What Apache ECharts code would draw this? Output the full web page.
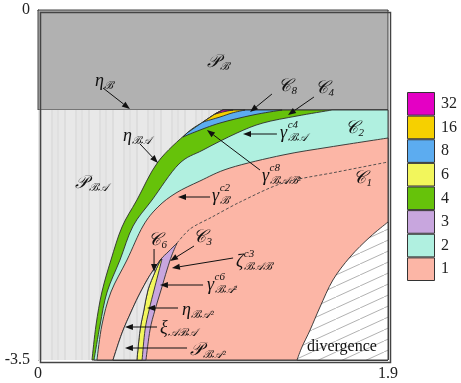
<!DOCTYPE html>
<html>
<head>
<meta charset="utf-8">
<script src="https://cdn.jsdelivr.net/npm/echarts@6/dist/echarts.min.js"></script>
<style>
  html, body { margin: 0; padding: 0; background: #fff; }
  #chart { width: 461px; height: 383px; }
</style>
</head>
<body>
<div id="chart"></div>
<script>
// boundary curves as [alpha, beta]
const etaB = -1.0
const etaBA = [[0.293,-3.5],[0.315,-3.15],[0.347,-2.82],[0.396,-2.5],[0.456,-2.17],[0.537,-1.9],[0.651,-1.52],[0.809,-1.23],[0.896,-1.12],[0.961,-1.04],[1.004,-1.0]]
const gammaBAc4 = [[0.304,-3.5],[0.337,-3.15],[0.375,-2.82],[0.445,-2.5],[0.516,-2.16],[0.619,-1.9],[0.765,-1.54],[0.896,-1.4],[1.08,-1.23],[1.221,-1.13],[1.406,-1.06],[1.596,-1.0]]
const gammaBc2 = [[0.32,-3.5],[0.347,-3.15],[0.396,-2.82],[0.483,-2.5],[0.57,-2.16],[0.651,-1.97],[0.749,-1.83],[0.879,-1.71],[1.042,-1.58],[1.33,-1.45],[1.585,-1.37],[1.9,-1.28]]
const dashed = [[0.755,-2.33],[0.825,-2.19],[0.945,-2.07],[1.097,-1.92],[1.33,-1.73],[1.623,-1.62],[1.9,-1.52]]
const xiABA = [[0.755,-2.33],[0.706,-2.42],[0.668,-2.49],[0.619,-2.62],[0.586,-2.72],[0.543,-2.87],[0.505,-3.02],[0.456,-3.23],[0.407,-3.5]]
const etaBA2 = [[0.662,-2.51],[0.635,-2.62],[0.597,-2.8],[0.575,-3.0],[0.554,-3.2],[0.537,-3.5]]
const gammaBA2c6 = [[0.673,-2.49],[0.651,-2.65],[0.63,-2.8],[0.603,-3.0],[0.581,-3.2],[0.565,-3.5]]
const zetaBABc3 = [[0.755,-2.33],[0.727,-2.45],[0.7,-2.6],[0.668,-2.8],[0.635,-3.0],[0.608,-3.2],[0.586,-3.5]]
const divergence = [[1.9,-2.12],[1.802,-2.27],[1.694,-2.47],[1.601,-2.7],[1.531,-2.97],[1.477,-3.2],[1.433,-3.37],[1.406,-3.5]]
const c8Edge = [[0.787,-1.27],[0.852,-1.22],[0.988,-1.13],[1.167,-1.05],[1.325,-1.0]]
const c16Edge = [[0.896,-1.12],[0.988,-1.07],[1.053,-1.03],[1.124,-1.0]]
const c32Edge = [[0.961,-1.04],[1.015,-1.015],[1.059,-1.0]]

// colour bar
const periods = ['1', '2', '3', '4', '6', '8', '16', '32']
const periodColors = ['#fcb6a6', '#b0f0e0', '#c8a6de', '#66c20a', '#f2f65c', '#5cacf0', '#f6d000', '#e400c4']

// annotations: label anchor [alpha, beta], arrows [from, to]
const labels = [
  { at: [0.917,-0.52], base: '𝒫', sub: 'ℬ' },
  { at: [0.309,-0.71], base: 'η', sub: 'ℬ' },
  { at: [0.461,-1.26], base: 'η', sub: 'ℬ𝒜' },
  { at: [0.201,-1.73], base: '𝒫', sub: 'ℬ𝒜' },
  { at: [1.303,-0.76], base: '𝒞', sub: '8' },
  { at: [1.504,-0.78], base: '𝒞', sub: '4' },
  { at: [1.314,-1.23], base: 'γ', sub: 'ℬ𝒜', sup: 'c4' },
  { at: [1.667,-1.18], base: '𝒞', sub: '2' },
  { at: [1.216,-1.66], base: 'γ', sub: 'ℬ𝒜ℬ²', sup: 'c8' },
  { at: [1.71,-1.68], base: '𝒞', sub: '1' },
  { at: [0.945,-1.86], base: 'γ', sub: 'ℬ', sup: 'c2' },
  { at: [0.597,-2.3], base: '𝒞', sub: '6' },
  { at: [0.841,-2.27], base: '𝒞', sub: '3' },
  { at: [1.075,-2.52], base: 'ζ', sub: 'ℬ𝒜ℬ', sup: 'c3' },
  { at: [0.917,-2.75], base: 'γ', sub: 'ℬ𝒜²', sup: 'c6' },
  { at: [0.782,-3.0], base: 'η', sub: 'ℬ𝒜²' },
  { at: [0.662,-3.18], base: 'ξ', sub: '𝒜ℬ𝒜' },
  { at: [0.825,-3.4], base: '𝒫', sub: 'ℬ𝒜²' },
  { at: [1.46,-3.37], base: 'divergence', plain: true }
]
const arrows = [
  [[0.353,-0.78],[0.499,-0.99]],
  [[0.554,-1.34],[0.651,-1.53]],
  [[1.27,-0.84],[1.151,-1.02]],
  [[1.498,-0.87],[1.357,-1.05]],
  [[1.297,-1.24],[1.113,-1.24]],
  [[1.205,-1.6],[0.917,-1.2]],
  [[0.934,-1.87],[0.76,-1.87]],
  [[0.63,-2.39],[0.63,-2.62]],
  [[0.847,-2.36],[0.717,-2.51]],
  [[1.059,-2.48],[0.727,-2.58]],
  [[0.896,-2.75],[0.662,-2.75]],
  [[0.76,-2.98],[0.592,-2.98]],
  [[0.646,-3.17],[0.472,-3.17]],
  [[0.809,-3.38],[0.472,-3.38]]
]

const SERIF = '"Liberation Serif", "DejaVu Serif", serif'

function hatchPattern() {
  const c = document.createElement('canvas')
  c.width = 24; c.height = 11
  const g = c.getContext('2d')
  g.fillStyle = '#fff'
  g.fillRect(0, 0, 24, 11)
  g.strokeStyle = '#a8a8a8'
  g.lineWidth = 0.9
  g.beginPath()
  g.moveTo(-1, 11.46); g.lineTo(25, -0.46)
  g.stroke()
  return c
}
function stripePattern() {
  const c = document.createElement('canvas')
  c.width = 24; c.height = 4
  const g = c.getContext('2d')
  const stripes = [[0,3,'#e8e8e8'],[3,2,'#dedede'],[5,4,'#e6e6e6'],[9,2,'#e0e0e0'],[11,5,'#e7e7e7'],[16,2,'#dddddd'],[18,6,'#e8e8e8']]
  stripes.forEach(s => { g.fillStyle = s[2]; g.fillRect(s[0], 0, s[1], 4) })
  return c
}

const colorOf = p => periodColors[periods.indexOf(p)]
const corners = [[1.9, etaB], [1.9, -3.5]]
const bottomRight = [[1.9, -3.5]]
// part of eta_BA above a given beta, walked from the top down
const etaBAabove = b => etaBA.filter(p => p[1] > b + 0.005).reverse()

// each region: list of [points, smooth] parts walked in order
const regions = [
  { parts: [[[[0, 0], [1.9, 0], [1.9, etaB], [0, etaB]], false]], fill: '#b1b1b1' },
  { parts: [[[[0, etaB], [1.9, etaB], [1.9, -3.5], [0, -3.5]], false]], fill: { image: stripePattern(), repeat: 'repeat' }, noStroke: true },
  { parts: [[etaBA, true], [corners, false]], fill: colorOf('4') },
  { parts: [[gammaBAc4, true], [corners, false]], fill: colorOf('2') },
  { parts: [[gammaBc2, true], [bottomRight, false]], fill: colorOf('1') },
  { parts: [[zetaBABc3, true], [xiABA.slice().reverse(), true]], fill: colorOf('3') },
  { parts: [[gammaBA2c6, true], [etaBA2.slice().reverse(), true]], fill: colorOf('6') },
  { parts: [[etaBA2, true], [xiABA.slice(2).reverse(), true]], fill: { image: stripePattern(), repeat: 'repeat' } },
  { parts: [[divergence, true], [bottomRight, false]], fill: { image: hatchPattern(), repeat: 'repeat' } },
  { parts: [[c8Edge, true], [etaBAabove(c8Edge[0][1]), true]], fill: colorOf('8') },
  { parts: [[c16Edge, true], [etaBAabove(c16Edge[0][1]), true]], fill: colorOf('16') },
  { parts: [[c32Edge, true], [etaBAabove(c32Edge[0][1]), true]], fill: colorOf('32') }
]

// path through pixel points; Catmull-Rom for smooth parts
function regionPath(parts, api) {
  let d = ''
  parts.forEach(([pts, smooth], k) => {
    const px = pts.map(p => api.coord(p))
    d += (k === 0 ? 'M' : 'L') + px[0][0].toFixed(2) + ' ' + px[0][1].toFixed(2)
    for (let i = 0; i < px.length - 1; i++) {
      const p1 = px[i], p2 = px[i + 1]
      if (!smooth) { d += 'L' + p2[0] + ' ' + p2[1]; continue }
      const p0 = px[Math.max(i - 1, 0)], p3 = px[Math.min(i + 2, px.length - 1)]
      const c1 = [p1[0] + (p2[0] - p0[0]) / 6, p1[1] + (p2[1] - p0[1]) / 6]
      const c2 = [p2[0] - (p3[0] - p1[0]) / 6, p2[1] - (p3[1] - p1[1]) / 6]
      d += 'C' + [c1[0], c1[1], c2[0], c2[1], p2[0], p2[1]].map(v => v.toFixed(2)).join(' ')
    }
  })
  return d + 'Z'
}

const measureCtx = document.createElement('canvas').getContext('2d')
function textWidth(t, font) { measureCtx.font = font; return measureCtx.measureText(t).width }

const chart = echarts.init(document.getElementById('chart'))
chart.setOption({
  animation: false,
  grid: [
    { left: 38, top: 10, width: 350, height: 350, containLabel: false, outerBoundsMode: 'none' },
    { left: 407, top: 92, width: 28, height: 189, containLabel: false, outerBoundsMode: 'none' }
  ],
  xAxis: [
    {
      gridIndex: 0, type: 'value', min: 0, max: 1.9, interval: 1.9,
      splitLine: { show: false }, axisTick: { show: false },
      axisLine: { lineStyle: { color: '#444' } },
      axisLabel: { fontFamily: SERIF, fontSize: 16, color: '#222', margin: 6 },
      name: 'α', nameLocation: 'middle', nameGap: 6,
      nameTextStyle: { fontFamily: SERIF, fontStyle: 'italic', fontSize: 18, color: '#222', verticalAlign: 'top' }
    },
    { gridIndex: 1, type: 'value', min: 0, max: 1, show: false }
  ],
  yAxis: [
    {
      gridIndex: 0, type: 'value', min: -3.5, max: 0, interval: 3.5,
      splitLine: { show: false }, axisTick: { show: false },
      axisLine: { lineStyle: { color: '#444' } },
      axisLabel: { fontFamily: SERIF, fontSize: 16, color: '#222', margin: 8 },
      name: 'β', nameLocation: 'middle', nameRotate: 0, nameGap: 20,
      nameTextStyle: { fontFamily: SERIF, fontStyle: 'italic', fontSize: 18, color: '#222' }
    },
    {
      gridIndex: 1, type: 'category', data: periods, position: 'right',
      axisLine: { show: false }, axisTick: { show: false },
      axisLabel: { fontFamily: SERIF, fontSize: 16, color: '#222', margin: 6 }
    }
  ],
  series: [
    {
      type: 'custom', xAxisIndex: 0, yAxisIndex: 0, silent: true,
      data: regions.map((r, i) => [i]),
      renderItem: (params, api) => {
        const r = regions[params.dataIndex]
        return {
          type: 'path',
          shape: { pathData: regionPath(r.parts, api) },
          style: { fill: r.fill, stroke: r.noStroke ? null : '#2e2e2e', lineWidth: 0.9 }
        }
      }
    },
    {
      type: 'line', xAxisIndex: 0, yAxisIndex: 0, silent: true,
      data: dashed, symbol: 'none', smooth: 0.3,
      lineStyle: { color: '#444', width: 0.9, type: [3, 2] }
    },
    {
      type: 'custom', xAxisIndex: 0, yAxisIndex: 0, silent: true,
      data: arrows.map((a, i) => [i]),
      renderItem: (params, api) => {
        const a = arrows[params.dataIndex]
        const p0 = api.coord(a[0]), p1 = api.coord(a[1])
        const dx = p1[0] - p0[0], dy = p1[1] - p0[1]
        const len = Math.hypot(dx, dy), ux = dx / len, uy = dy / len
        const hl = 8, hw = 3
        const bx = p1[0] - ux * hl, by = p1[1] - uy * hl
        return {
          type: 'group',
          children: [
            { type: 'line', shape: { x1: p0[0], y1: p0[1], x2: bx, y2: by }, style: { stroke: '#111', lineWidth: 1 } },
            { type: 'polygon', shape: { points: [p1, [bx - uy * hw, by + ux * hw], [bx + uy * hw, by - ux * hw]] }, style: { fill: '#111' } }
          ]
        }
      }
    },
    {
      type: 'custom', xAxisIndex: 0, yAxisIndex: 0, silent: true,
      data: labels.map((l, i) => [i]),
      renderItem: (params, api) => {
        const l = labels[params.dataIndex]
        const p = api.coord(l.at)
        if (l.plain) {
          return { type: 'text', x: p[0], y: p[1], style: { text: l.base, font: '16px ' + SERIF, fill: '#111', align: 'left', verticalAlign: 'middle' } }
        }
        const baseFont = 'italic 18px ' + SERIF
        const smallFont = 'italic 11px ' + SERIF
        const w = textWidth(l.base, baseFont)
        const children = [
          { type: 'text', x: p[0], y: p[1], style: { text: l.base, font: baseFont, fill: '#111', align: 'left', verticalAlign: 'middle' } }
        ]
        if (l.sub) children.push({ type: 'text', x: p[0] + w + 0.5, y: p[1] + 5, style: { text: l.sub, font: smallFont, fill: '#111', align: 'left', verticalAlign: 'middle' } })
        if (l.sup) children.push({ type: 'text', x: p[0] + w + 0.5, y: p[1] - 8, style: { text: l.sup, font: smallFont, fill: '#111', align: 'left', verticalAlign: 'middle' } })
        return { type: 'group', children }
      }
    },
    {
      type: 'bar', xAxisIndex: 1, yAxisIndex: 1, silent: true,
      barWidth: '100%',
      data: periods.map((p, i) => ({ value: 1, itemStyle: { color: periodColors[i] } })),
      itemStyle: { borderColor: '#333', borderWidth: 1 }
    }
  ],
  graphic: [
    { type: 'rect', left: 38, top: 10, shape: { width: 350, height: 350 }, style: { fill: null, stroke: '#444', lineWidth: 1.5 }, z: 100, silent: true }
  ]
})
</script>
</body>
</html>
